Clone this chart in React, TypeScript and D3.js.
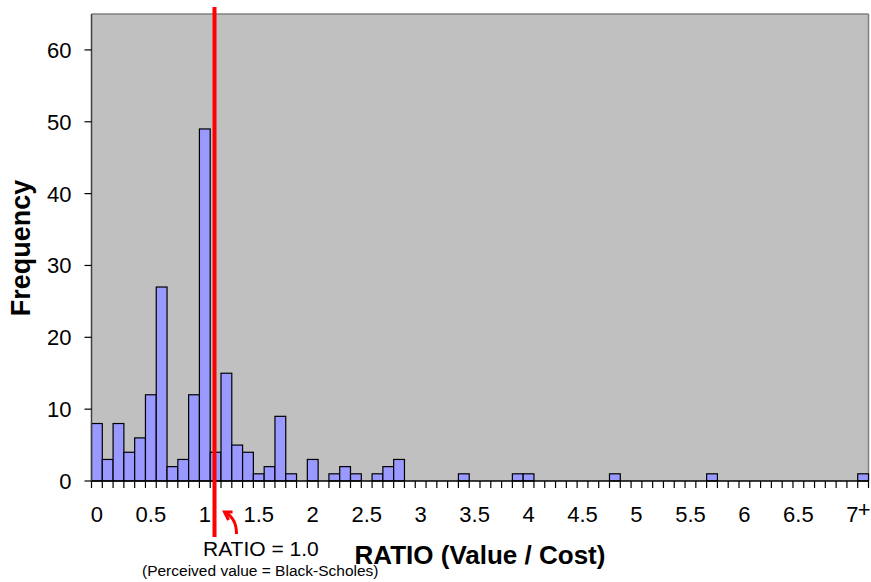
import React from "react";
import * as d3 from "d3";

const binLabels: string[] = [
  ...d3.range(0, 71).map((i) => (i / 10).toString()),
  "7+",
];
const frequencies: number[] = [
  8, 3, 8, 4, 6, 12, 27, 2, 3, 12,
  49, 4, 15, 5, 4, 1, 2, 9, 1, 0,
  3, 0, 1, 2, 1, 0, 1, 2, 3, 0,
  0, 0, 0, 0, 1, 0, 0, 0, 0, 1,
  1, 0, 0, 0, 0, 0, 0, 0, 1, 0,
  0, 0, 0, 0, 0, 0, 0, 1, 0, 0,
  0, 0, 0, 0, 0, 0, 0, 0, 0, 0,
  0, 1,
];
const yTicks: number[] = [0, 10, 20, 30, 40, 50, 60];
const xTickLabels: string[] = ["0", "0.5", "1", "1.5", "2", "2.5", "3", "3.5", "4", "4.5", "5", "5.5", "6", "6.5", "7"];
const referenceRatio = 1.09;

const W = 871;
const H = 582;
const left = 91.5;
const right = 868.5;
const top = 14;
const bottom = 481;
const FONT = "Arial, 'Liberation Sans', Helvetica, sans-serif";

export default function App() {
  const x = d3.scaleBand<string>().domain(binLabels).range([left, right]).padding(0);
  const y = d3.scaleLinear().domain([0, 65]).range([bottom, top]);
  const bw = x.bandwidth();
  const ratioX = d3.scaleLinear().domain([0, 0.1]).range([left + bw / 2, left + bw * 1.5]);
  const rx = ratioX(referenceRatio);

  return (
    <svg width={W} height={H} style={{ display: "block", position: "absolute", left: 0, top: 0 }}>
      <rect x={0} y={0} width={W} height={H} fill="#ffffff" />
      <rect x={left} y={top} width={right - left} height={bottom - top} fill="#C0C0C0" />
      <line x1={left} x2={right} y1={top} y2={top} stroke="#808080" strokeWidth={1.5} />
      <line x1={right} x2={right} y1={top} y2={bottom} stroke="#808080" strokeWidth={1.5} />
      {binLabels.map((b, i) =>
        frequencies[i] > 0 ? (
          <rect
            key={b}
            x={x(b)!}
            y={y(frequencies[i])}
            width={bw}
            height={y(0) - y(frequencies[i])}
            fill="#9999FF"
            stroke="#000000"
            strokeWidth={1.2}
          />
        ) : null
      )}
      <line x1={left} x2={left} y1={top} y2={bottom} stroke="#404040" strokeWidth={1.5} />
      <line x1={left} x2={right} y1={bottom} y2={bottom} stroke="#000000" strokeWidth={1.5} />
      {yTicks.map((t) => (
        <g key={t}>
          <line x1={left - 7} x2={left} y1={y(t)} y2={y(t)} stroke="#000" strokeWidth={1.2} />
          <text x={left - 20} y={y(t) + 8} textAnchor="end" fontFamily={FONT} fontSize={22} fill="#000">
            {t}
          </text>
        </g>
      ))}
      {d3.range(binLabels.length + 1).map((i) => {
        const xx = left + i * bw;
        return <line key={i} x1={xx} x2={xx} y1={bottom} y2={bottom + 7} stroke="#000" strokeWidth={1.2} />;
      })}
      {xTickLabels.map((l, i) => {
        const b = binLabels[i * 5];
        return (
          <text key={l} x={x(b)! + bw / 2} y={522} textAnchor="middle" fontFamily={FONT} fontSize={22} fill="#000">
            {l}
          </text>
        );
      })}
      <text x={x("7+")! + bw / 2 + 1} y={517} textAnchor="middle" fontFamily={FONT} fontSize={22} fill="#000">
        +
      </text>
      <text
        transform={`translate(30, 248) rotate(-90)`}
        textAnchor="middle"
        fontFamily={FONT}
        fontSize={27}
        fontWeight="bold"
        fill="#000"
      >
        Frequency
      </text>
      <text x={480} y={564} textAnchor="middle" fontFamily={FONT} fontSize={26} fontWeight="bold" fill="#000">
        RATIO (Value / Cost)
      </text>
      <text x={203} y={556} fontFamily={FONT} fontSize={21} fill="#000">
        RATIO = 1.0
      </text>
      <text x={142} y={576} fontFamily={FONT} fontSize={15.5} fill="#000">
        (Perceived value = Black-Scholes)
      </text>
      <line x1={rx} x2={rx} y1={7} y2={537} stroke="#FF0000" strokeWidth={4} />
      <path d={`M ${rx + 22} 534 Q ${rx + 22} 518 ${rx + 10} 512`} fill="none" stroke="#FF0000" strokeWidth={3} />
      <path d={`M ${rx + 18} 512 L ${rx + 10} 512 L ${rx + 14} 520`} fill="none" stroke="#FF0000" strokeWidth={3} />
    </svg>
  );
}
